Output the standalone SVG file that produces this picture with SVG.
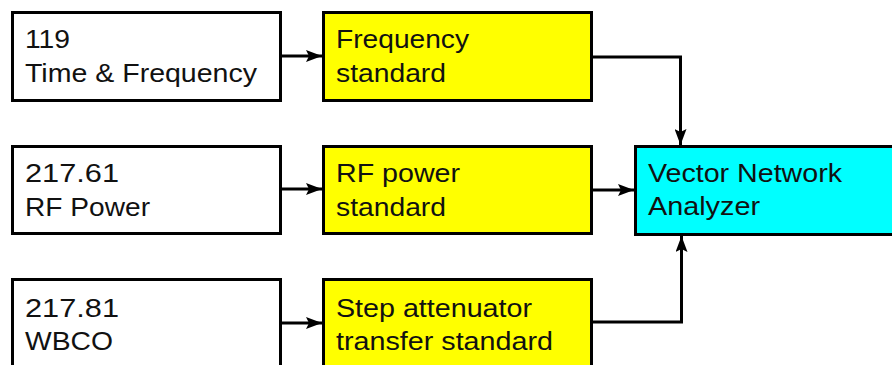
<svg xmlns="http://www.w3.org/2000/svg" width="892" height="365" viewBox="0 0 892 365">
<defs>
<marker id="ah" viewBox="0 0 16 12" refX="16" refY="6" markerWidth="16" markerHeight="12" markerUnits="userSpaceOnUse" orient="auto">
<path d="M0,0 L16,6 L0,12 L3,6 Z" fill="#000"/>
</marker>
<style>
.box{stroke:#000;stroke-width:3}
.w{fill:#fff}
.y{fill:#ffff00}
.c{fill:#00ffff}
text{font-family:"Liberation Sans",Arial,sans-serif;font-size:26px;fill:#111}
.conn{fill:none;stroke:#000;stroke-width:3;marker-end:url(#ah)}
</style>
</defs>
<rect width="892" height="365" fill="#fff"/>
<g id="n119">
<rect class="box w" x="12.5" y="12.5" width="268" height="88"/>
<text x="25" y="48" textLength="45" lengthAdjust="spacingAndGlyphs">119</text>
<text x="25" y="82" textLength="232" lengthAdjust="spacingAndGlyphs">Time &amp; Frequency</text>
</g>
<g id="n21761">
<rect class="box w" x="12.5" y="146.5" width="268" height="87"/>
<text x="25" y="182" textLength="94" lengthAdjust="spacingAndGlyphs">217.61</text>
<text x="25" y="216" textLength="125" lengthAdjust="spacingAndGlyphs">RF Power</text>
</g>
<g id="n21781">
<rect class="box w" x="12.5" y="279.5" width="268" height="100"/>
<text x="25" y="317" textLength="94" lengthAdjust="spacingAndGlyphs">217.81</text>
<text x="25" y="350" textLength="88" lengthAdjust="spacingAndGlyphs">WBCO</text>
</g>
<g id="freq">
<rect class="box y" x="323.5" y="12.5" width="268" height="88"/>
<text x="336" y="48" textLength="133" lengthAdjust="spacingAndGlyphs">Frequency</text>
<text x="336" y="82" textLength="110" lengthAdjust="spacingAndGlyphs">standard</text>
</g>
<g id="rfpower">
<rect class="box y" x="323.5" y="146.5" width="268" height="87"/>
<text x="336" y="182" textLength="124" lengthAdjust="spacingAndGlyphs">RF power</text>
<text x="336" y="216" textLength="110" lengthAdjust="spacingAndGlyphs">standard</text>
</g>
<g id="step">
<rect class="box y" x="323.5" y="279.5" width="268" height="100"/>
<text x="336" y="317" textLength="196" lengthAdjust="spacingAndGlyphs">Step attenuator</text>
<text x="336" y="350" textLength="217" lengthAdjust="spacingAndGlyphs">transfer standard</text>
</g>
<g id="vna">
<rect class="box c" x="635.5" y="146.5" width="270" height="88"/>
<text x="648" y="182" textLength="194" lengthAdjust="spacingAndGlyphs">Vector Network</text>
<text x="648" y="215" textLength="112" lengthAdjust="spacingAndGlyphs">Analyzer</text>
</g>
<g id="connectors">
<path class="conn" d="M281,56 L322,56"/>
<path class="conn" d="M281,189 L322,189"/>
<path class="conn" d="M281,323 L322,323"/>
<path class="conn" d="M592,57 L680.5,57 L680.5,145"/>
<path class="conn" d="M592,190 L634,190"/>
<path class="conn" d="M592,322 L681.5,322 L681.5,236"/>
</g>
</svg>
